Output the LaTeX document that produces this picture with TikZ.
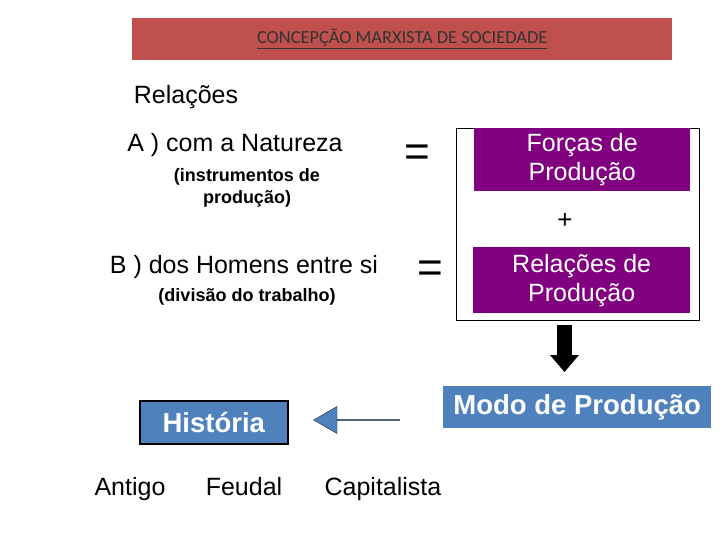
\documentclass[tikz,border=0pt]{standalone}
\usepackage{fontspec}
\setmainfont{Liberation Sans}
\newfontfamily\calfont{Carlito}
\usetikzlibrary{shapes.arrows}
\definecolor{tred}{HTML}{C0504D}
\definecolor{purp}{HTML}{800080}
\definecolor{sblue}{HTML}{4F81BD}
\begin{document}
\begin{tikzpicture}[x=1pt,y=-1pt,
  txt/.style={inner sep=0pt,font=\fontsize{25}{28}\selectfont},
  small/.style={inner sep=0pt,font=\bfseries\fontsize{18}{22}\selectfont,align=center},
  pbox/.style={fill=purp,text=white,align=center,font=\fontsize{25}{29}\selectfont,inner sep=0pt},
  eq/.style={inner sep=0pt,font=\fontsize{44}{46}\selectfont}]
\useasboundingbox (0,0) rectangle (720,540);
\node[fill=tred,minimum width=540,minimum height=42,anchor=north west,inner sep=0pt] (title) at (132,18) {};
\node[font=\calfont\fontsize{18.4}{20}\selectfont,text=black!80] at (title) {\underline{CONCEPÇÃO MARXISTA DE SOCIEDADE}};
\node[txt] (rel) at (186,97) {Relações};
\node[txt] (a) at (235,145) {A ) com a Natureza};
\node[small] (ai) at (247,188) {(instrumentos de\\produção)};
\node[txt] (b) at (244,267) {B ) dos Homens entre si};
\node[small] (bi) at (247,297) {(divisão do trabalho)};
\node[eq] (e1) at (417,156) {=};
\node[eq] (e2) at (430,272) {=};
\draw (456,128) rectangle (699,320);
\node[pbox,minimum width=216,minimum height=63,anchor=north west] (f) at (474,128) {Forças de\\Produção};
\node[pbox,minimum width=217,minimum height=66,anchor=north west] (r) at (473,247) {Relações de\\Produção};
\node[inner sep=0pt,font=\fontsize{26}{28}\selectfont] (plus) at (565,221) {+};
\node[fill=sblue,text=white,minimum width=268,minimum height=42,anchor=north west,inner sep=0pt,font=\bfseries\fontsize{27.5}{30}\selectfont] (m) at (443,386) {Modo de Produção};
\draw[line width=15pt] (564.5,325) -- (564.5,356);
\fill (550,355) -- (579,355) -- (564.5,372) -- cycle;
\node[fill=sblue,draw=black,line width=1.5pt,text=white,minimum width=148,minimum height=43,anchor=north west,inner sep=0pt,font=\bfseries\fontsize{27.5}{30}\selectfont] (h) at (139,400) {História};
\node[single arrow,shape border rotate=180,fill=sblue,draw=black!70!sblue,minimum height=86,minimum width=27,single arrow head extend=6.5pt,single arrow tip angle=60,inner sep=0pt] (arr) at (357,420) {};
\node[txt,anchor=base] (an) at (130,495) {Antigo};
\node[txt,anchor=base] (fe) at (244,495) {Feudal};
\node[txt,anchor=base] (ca) at (383,495) {Capitalista};
\end{tikzpicture}
\end{document}
